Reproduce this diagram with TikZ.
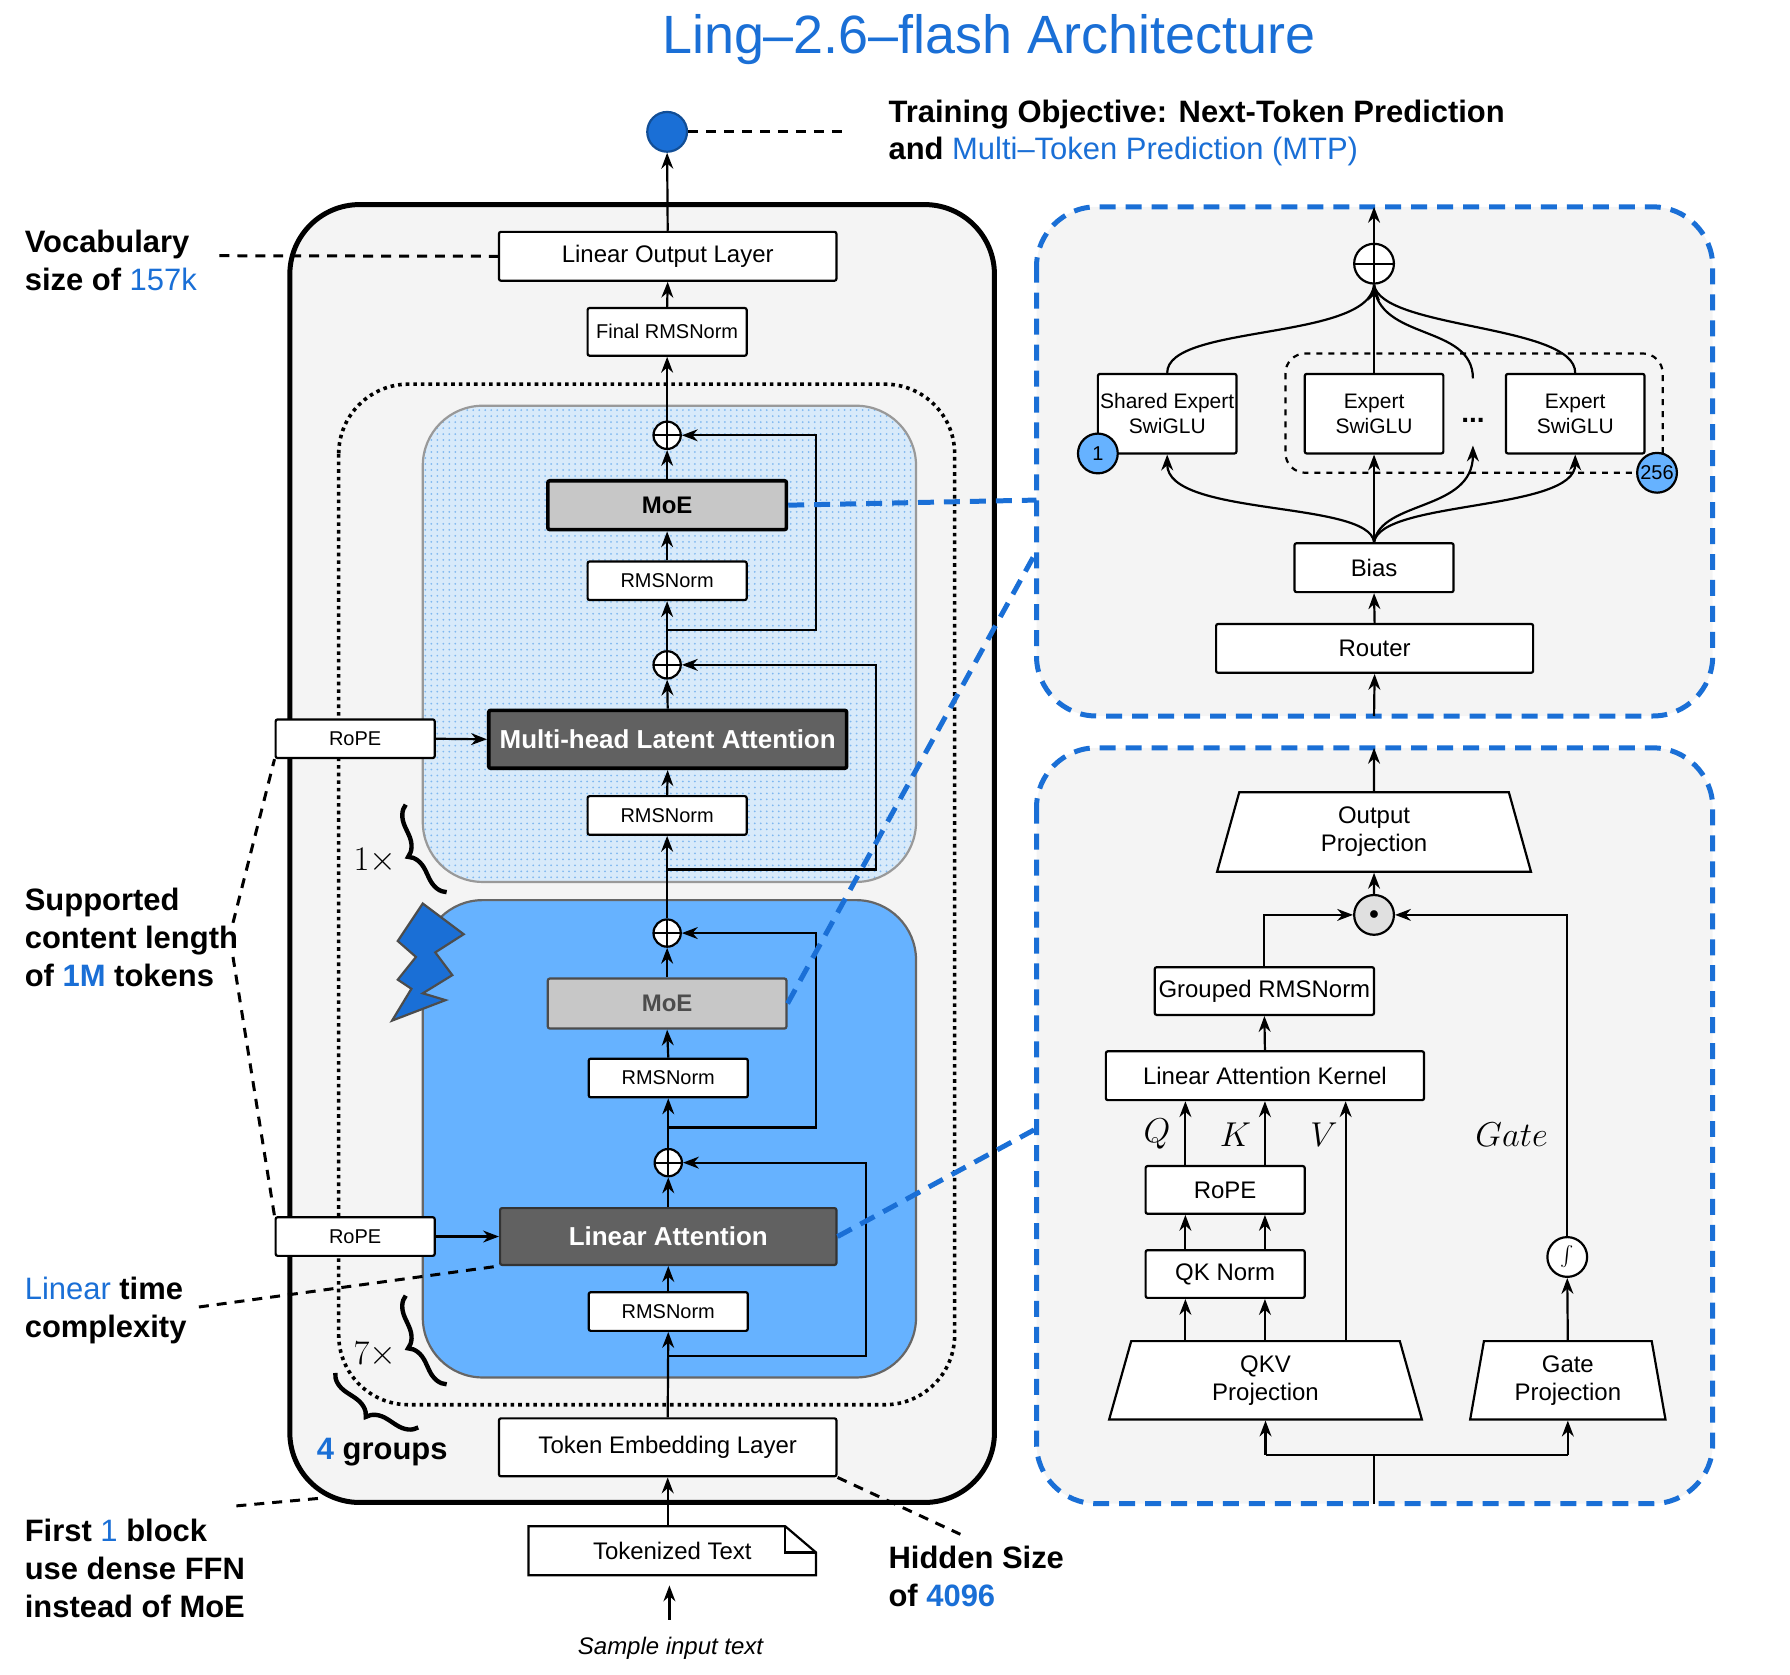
\documentclass[tikz,border=0pt]{standalone}
\usepackage{fontspec}
\setmainfont{Liberation Sans}
\usetikzlibrary{shapes.geometric,patterns,decorations.pathreplacing,arrows.meta}
\definecolor{lingblue}{HTML}{1A6FD6}
\definecolor{dotblue}{HTML}{7FB8F0}
\definecolor{solidblue}{HTML}{66B2FF}
\definecolor{panel}{HTML}{F4F4F4}
\newcommand{\hl}[1]{\textcolor{lingblue}{#1}}
\tikzset{
  box/.style={draw, fill=white, rounded corners=1pt, inner sep=0pt, align=center, font=\fontsize{12}{14}\selectfont},
  sbox/.style={box, minimum width=2.8cm, minimum height=0.68cm, font=\fontsize{10}{12}\selectfont},
  trap/.style={draw, fill=white, trapezium, trapezium stretches=true, trapezium angle=80, inner sep=0pt, align=center, font=\fontsize{12}{14}\selectfont},
  oplus/.style={draw, circle, fill=white, minimum size=0.48cm, inner sep=0pt, path picture={\draw (path picture bounding box.north) -- (path picture bounding box.south) (path picture bounding box.west) -- (path picture bounding box.east);}},
  note/.style={anchor=west, align=left, font=\fontsize{15.5}{19}\selectfont\bfseries},
  lead/.style={line width=1.5pt, dash pattern=on 5pt off 4pt},
  zoomln/.style={lingblue, line width=2.5pt, dash pattern=on 8pt off 5pt},
  arr/.style={-Stealth, line width=1.1pt},
}
\begin{document}
\begin{tikzpicture}[x=0.02cm, y=-0.02cm, line width=1.1pt]
\useasboundingbox (0,0) rectangle (1575,1473);
% title and objective
\node[font=\fontsize{27}{32}\selectfont, text=lingblue] (title) at (870,35) {Ling–2.6–flash Architecture};
\node[circle, fill=lingblue, draw=lingblue!70!black, minimum size=0.7cm, inner sep=0pt] (out) at (587,116) {};
\coordinate (objend) at (745,116);
\draw[lead] (out.east) -- (objend);
\node[note] (obj) at (775,117) {Training Objective: Next-Token Prediction\\and \hl{\mdseries Multi–Token Prediction (MTP)}};

% main column frames
\draw[line width=2.5pt, fill=panel, rounded corners=35pt] (255,180) rectangle (875,1322);
\draw[dotted, line width=1.8pt, rounded corners=35pt] (298,338) rectangle (840,1236);
\fill[dotblue!30, rounded corners=30pt] (372,357) rectangle (806,776);
\fill[pattern=dots, pattern color=dotblue, rounded corners=30pt] (372,357) rectangle (806,776);
\draw[black!40, rounded corners=30pt] (372,357) rectangle (806,776);
\draw[black!60, fill=solidblue, rounded corners=30pt] (372,792) rectangle (806,1212);

% nodes of the main column
\node[box, minimum width=5.94cm, minimum height=0.86cm] (lol) at (587.5,225.5) {Linear Output Layer};
\node[sbox, minimum height=0.84cm] (frms) at (587,292) {Final RMSNorm};
\node[oplus] (p1) at (587,383) {};
\node[box, fill=black!22, line width=1.8pt, minimum width=4.2cm, minimum height=0.86cm, font=\fontsize{12}{14}\selectfont\bfseries] (moe1) at (587,444.5) {MoE};
\node[sbox] (n1) at (587,511) {RMSNorm};
\node[oplus] (p2) at (587,585) {};
\node[box, fill=black!62, line width=1.8pt, text=white, minimum width=6.3cm, minimum height=1.02cm, font=\fontsize{13}{15}\selectfont\bfseries] (mla) at (587.5,650.5) {Multi-head Latent Attention};
\node[sbox] (n2) at (587,717.5) {RMSNorm};
\node[oplus] (p3) at (587,821) {};
\node[box, fill=black!22, draw=black!70, minimum width=4.2cm, minimum height=0.88cm, font=\fontsize{12}{14}\selectfont\bfseries, text=black!70] (moe2) at (587,883) {MoE};
\node[sbox] (n3) at (588,948.5) {RMSNorm};
\node[oplus] (p4) at (588,1023) {};
\node[box, fill=black!62, draw=black!80, text=white, minimum width=5.92cm, minimum height=1.0cm, font=\fontsize{13}{15}\selectfont\bfseries] (la) at (588,1088) {Linear Attention};
\node[sbox] (n4) at (588,1154) {RMSNorm};
\node[box, minimum width=5.94cm, minimum height=1.02cm] (emb) at (587.5,1273.5) {Token Embedding Layer};
\draw (465,1386) -- (465,1343) -- (691,1343) -- (718,1366) -- (718,1386) -- cycle;
\draw (691,1343) -- (691,1366) -- (718,1366);
\node[minimum width=5.06cm, minimum height=0.86cm, inner sep=0pt, font=\fontsize{12}{14}\selectfont] (tok) at (591.5,1364.5) {Tokenized Text};
\node[font=\fontsize{12}{14}\selectfont\itshape] (smp) at (590,1450) {Sample input text};
\coordinate (smptop) at (589,1425);
\node[sbox] (rope1) at (312.5,650) {RoPE};
\node[sbox] (rope2) at (312.5,1088) {RoPE};

% main column connectors
\draw[arr] (smptop) -- (589,1395);
\draw[arr] (tok.north -| emb) -- (emb.south);
\draw[arr] (emb.north) -- (n4.south);
\draw[arr] (n4.north) -- (la.south);
\draw[arr] (la.north) -- (p4.south);
\draw[arr] (p4.north) -- (n3.south);
\draw[arr] (n3.north) -- (moe2.south);
\draw[arr] (moe2.north) -- (p3.south);
\draw[arr] (p3.north) -- (n2.south);
\draw[arr] (n2.north) -- (mla.south);
\draw[arr] (mla.north) -- (p2.south);
\draw[arr] (p2.north) -- (n1.south);
\draw[arr] (n1.north) -- (moe1.south);
\draw[arr] (moe1.north) -- (p1.south);
\draw[arr] (p1.north) -- (frms.south);
\draw[arr] (frms.north) -- (lol.south);
\draw[arr] (lol.north) -- (out.south);
\coordinate (r1) at (588,1193);
\coordinate (r2) at (588,992);
\coordinate (r3) at (587,765);
\coordinate (r4) at (587,554);
\draw[arr] (r1) -| (762,1023) -- (p4.east);
\draw[arr] (r2) -| (718,821) -- (p3.east);
\draw[arr] (r3) -| (771,585) -- (p2.east);
\draw[arr] (r4) -| (718,383) -- (p1.east);
\draw[arr] (rope1.east) -- (mla.west);
\draw[arr] (rope2.east) -- (la.west);

% braces, bolt, repeat marks
\draw[decorate, decoration={brace, amplitude=10pt}, line width=2.2pt] (393,785) -- (357,708);
\node[font=\fontsize{18}{20}\selectfont\rmfamily] (rep1) at (330,757) {$1\times$};
\draw[decorate, decoration={brace, amplitude=10pt}, line width=2.2pt] (393,1218) -- (357,1140);
\node[font=\fontsize{18}{20}\selectfont\rmfamily] (rep7) at (330,1192) {$7\times$};
\draw[decorate, decoration={brace, amplitude=10pt}, line width=2.2pt] (368,1256) -- (295,1208);
\node[anchor=west, font=\fontsize{15.5}{19}\selectfont\bfseries] (grp) at (272,1278) {\hl{4} groups};
\draw[fill=lingblue, draw=black!70] (372,795) -- (408,822) -- (383,838) -- (398,858) -- (372,874) -- (392,880) -- (345,898) -- (362,870) -- (350,862) -- (366,842) -- (350,828) -- cycle;

% side notes
\node[note] (voc) at (15,229) {Vocabulary\\size of \hl{\mdseries 157k}};
\coordinate (vocend) at (193,225);
\draw[lead] (vocend) -- (lol.west);
\node[note] (ctx) at (15,825) {Supported\\content length\\of \hl{1M} tokens};
\coordinate (ctx1) at (205,812);
\coordinate (ctx2) at (205,842);
\draw[lead] (ctx1) -- (rope1.south west);
\draw[lead] (ctx2) -- (rope2.north west);
\node[note] (lin) at (15,1153) {\hl{\mdseries Linear} time\\complexity};
\coordinate (linend) at (175,1150);
\draw[lead] (linend) -- (la.south west);
\node[note] (first) at (15,1380) {First \hl{\mdseries 1} block\\use dense FFN\\instead of MoE};
\coordinate (fa) at (208,1325);
\coordinate (fb) at (285,1318);
\draw[lead] (fa) -- (fb);
\node[note] (hid) at (775,1387) {Hidden Size\\of \hl{4096}};
\coordinate (hidend) at (845,1350);
\draw[lead] (emb.south east) -- (hidend);

% MoE panel
\draw[zoomln, fill=panel, rounded corners=30pt] (912,182) rectangle (1507,630);
\node[box, minimum width=5.58cm, minimum height=0.86cm] (router) at (1209.5,570.5) {Router};
\node[box, minimum width=2.8cm, minimum height=0.86cm] (bias) at (1209,499.5) {Bias};
\draw[dashed, line width=1.1pt, rounded corners=10pt] (1131,311) rectangle (1463,416);
\node[box, font=\fontsize{10.5}{12.5}\selectfont, minimum width=2.44cm, minimum height=1.4cm] (shx) at (1027,364) {Shared Expert\\SwiGLU};
\node[box, font=\fontsize{10.5}{12.5}\selectfont, minimum width=2.44cm, minimum height=1.4cm] (ex1) at (1209,364) {Expert\\SwiGLU};
\node[box, font=\fontsize{10.5}{12.5}\selectfont, minimum width=2.44cm, minimum height=1.4cm] (ex2) at (1386,364) {Expert\\SwiGLU};
\node[font=\fontsize{14}{14}\selectfont\bfseries] (dots) at (1296,370) {...};
\node[circle, draw, fill=solidblue, minimum size=0.7cm, inner sep=0pt, font=\fontsize{10}{12}\selectfont] (c1) at (966,399) {1};
\node[circle, draw, fill=solidblue, minimum size=0.7cm, inner sep=0pt, font=\fontsize{10}{12}\selectfont] (c256) at (1458,416) {256};
\node[oplus, minimum size=0.7cm] (psum) at (1209,232) {};
\coordinate (moein) at (1209,630);
\coordinate (moeout) at (1209,182);
\coordinate (dtop) at (1296,333);
\coordinate (dbot) at (1296,392);
\draw[arr] (moein) -- (router.south);
\draw[arr] (router.north) -- (bias.south);
\draw[arr] (psum.north) -- (moeout);
\draw[arr] (bias.north) -- (ex1.south);
\draw[arr] (bias.north) .. controls (1205,440) and (1027,455) .. (shx.south);
\draw[arr] (bias.north) .. controls (1215,440) and (1296,450) .. (dbot);
\draw[arr] (bias.north) .. controls (1215,440) and (1386,450) .. (ex2.south);
\draw[arr] (ex1.north) -- (psum.south);
\draw (shx.north) .. controls (1027,285) and (1205,300) .. (psum.south);
\draw (dtop) .. controls (1296,285) and (1212,300) .. (psum.south);
\draw (ex2.north) .. controls (1386,285) and (1215,290) .. (psum.south);

% linear attention panel
\draw[zoomln, fill=panel, rounded corners=30pt] (912,658) rectangle (1507,1323);
\node[trap, minimum width=5.56cm, minimum height=1.4cm] (oproj) at (1209,732) {Output\\Projection};
\node[circle, draw, fill=black!12, minimum size=0.7cm, inner sep=0pt] (odot) at (1209,805) {$\bullet$};
\node[box, minimum width=3.86cm, minimum height=0.84cm] (grms) at (1112.5,872) {Grouped RMSNorm};
\node[box, minimum width=5.6cm, minimum height=0.86cm] (kern) at (1113,946.5) {Linear Attention Kernel};
\node[box, minimum width=2.8cm, minimum height=0.84cm] (rope3) at (1078,1047) {RoPE};
\node[box, minimum width=2.8cm, minimum height=0.84cm] (qkn) at (1078,1121) {QK Norm};
\node[trap, minimum width=5.54cm, minimum height=1.38cm] (qkv) at (1113.5,1214.5) {QKV\\Projection};
\node[trap, minimum width=3.46cm, minimum height=1.38cm] (gproj) at (1379.5,1214.5) {Gate\\Projection};
\node[circle, draw, fill=white, minimum size=0.7cm, inner sep=0pt, font=\fontsize{12}{12}\selectfont] (sig) at (1379,1106) {$\int$};
\node[font=\fontsize{18}{20}\selectfont\rmfamily] (lq) at (1018,998) {$Q$};
\node[font=\fontsize{18}{20}\selectfont\rmfamily] (lk) at (1087,998) {$K$};
\node[font=\fontsize{18}{20}\selectfont\rmfamily] (lv) at (1165,998) {$V$};
\node[font=\fontsize{18}{20}\selectfont\rmfamily] (lg) at (1330,998) {$Gate$};
\coordinate (xq) at (1043,0);
\coordinate (xk) at (1113,0);
\coordinate (xv) at (1184,0);
\coordinate (lain) at (1209,1323);
\coordinate (lasplit) at (1209,1280);
\coordinate (laout) at (1209,658);
\draw (lain) -- (lasplit);
\draw[arr] (qkv.south |- lasplit) -- (qkv.south);
\draw[arr] (gproj.south |- lasplit) -- (gproj.south);
\draw (qkv.south |- lasplit) -- (gproj.south |- lasplit);
\draw[arr] (xq |- qkv.north) -- (xq |- qkn.south);
\draw[arr] (xk |- qkv.north) -- (xk |- qkn.south);
\draw[arr] (xq |- qkn.north) -- (xq |- rope3.south);
\draw[arr] (xk |- qkn.north) -- (xk |- rope3.south);
\draw[arr] (xq |- rope3.north) -- (xq |- kern.south);
\draw[arr] (xk |- rope3.north) -- (xk |- kern.south);
\draw[arr] (xv |- qkv.north) -- (xv |- kern.south);
\draw[arr] (gproj.north) -- (sig.south);
\draw[arr] (sig.north) |- (odot.east);
\draw[arr] (kern.north) -- (grms.south);
\draw[arr] (grms.north) |- (odot.west);
\draw[arr] (odot.north) -- (oproj.south);
\draw[arr] (oproj.north) -- (laout);

% zoom leaders
\coordinate (z1) at (912,440);
\coordinate (z2) at (912,485);
\coordinate (z3) at (912,993);
\draw[zoomln] (moe1.east) -- (z1);
\draw[zoomln] (moe2.east) -- (z2);
\draw[zoomln] (la.east) -- (z3);
\end{tikzpicture}
\end{document}
